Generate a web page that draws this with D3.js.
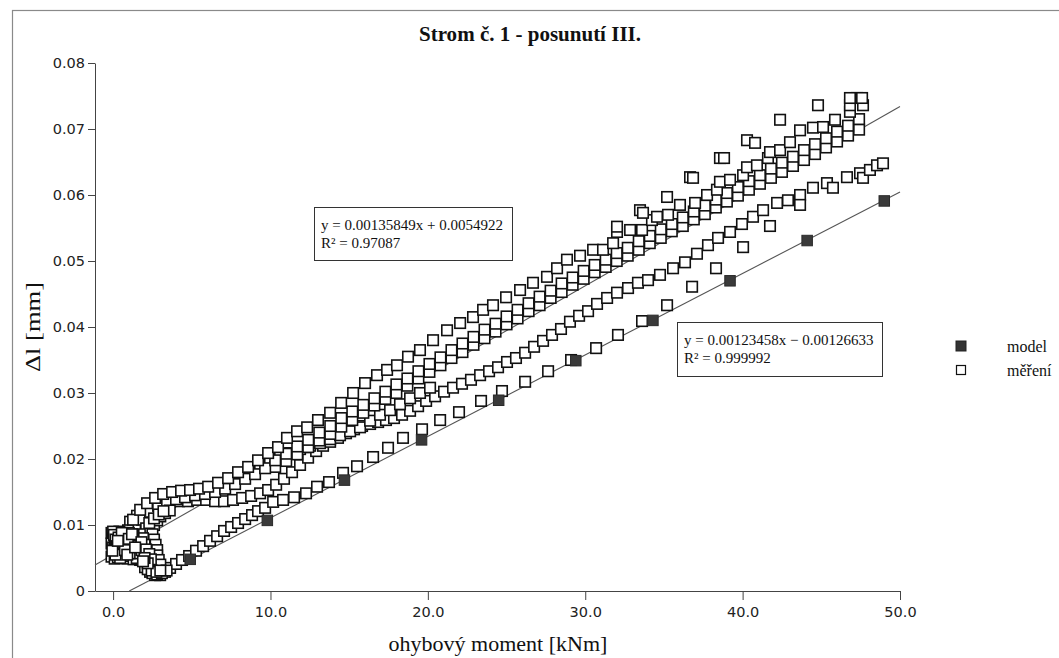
<!DOCTYPE html>
<html><head><meta charset="utf-8">
<script src="https://cdn.jsdelivr.net/npm/d3@7"></script>
<style>body{margin:0;background:#fff;overflow:hidden}</style>
</head><body>
<svg id="c" width="1059" height="658"></svg>
<script>
const titleText = "Strom č. 1 - posunutí III.";
const xLabel = "ohybový moment [kNm]";
const yLabel = "Δl [mm]";
const xTicks = [0, 10, 20, 30, 40, 50];
const xTickLabels = ["0.0", "10.0", "20.0", "30.0", "40.0", "50.0"];
const yTicks = [0, 0.01, 0.02, 0.03, 0.04, 0.05, 0.06, 0.07, 0.08];
const yTickLabels = ["0", "0.01", "0.02", "0.03", "0.04", "0.05", "0.06", "0.07", "0.08"];
const seriesNames = ["model", "měření"];
const fitMeasured = [0.00135849, 0.0054922];
const fitModel = [0.00123458, -0.00126633];
const eqMeasured = ["y = 0.00135849x + 0.0054922", "R² = 0.97087"];
const eqModel = ["y = 0.00123458x − 0.00126633", "R² = 0.999992"];

const modelX = [4.9, 9.8, 14.7, 19.6, 24.5, 29.4, 34.3, 39.2, 44.1, 49.0];
const modelY = [0.0048, 0.0107, 0.0168, 0.0229, 0.0289, 0.0349, 0.0410, 0.0470, 0.0531, 0.0591];

const measCluster = [[-0.1,0.0088],[0.0,0.0080],[-0.1,0.0072],[0.1,0.0065],[0.0,0.0058],[-0.1,0.0052],[0.1,0.0049],[0.3,0.0051],[0.2,0.0060],[0.3,0.0070],[0.2,0.0083],[0.4,0.0090],[0.5,0.0078],[0.6,0.0066],[0.5,0.0056],[0.7,0.0050],[0.9,0.0049],[0.8,0.0058],[0.9,0.0069],[0.8,0.0080],[1.0,0.0088],[1.1,0.0074],[1.2,0.0062],[1.1,0.0053],[1.3,0.0048],[1.5,0.0050],[1.6,0.0057],[1.5,0.0078],[1.7,0.0086],[1.9,0.0080],[2.0,0.0070],[1.8,0.0062],[0.0,0.0066],[0.1,0.0076],[0.0,0.0090],[0.6,0.0087],[1.3,0.0085],[0.4,0.0062],[0.7,0.0073],[0.05,0.0085],[0.15,0.0078],[0.25,0.0068],[0.35,0.0057],[0.45,0.0050],[0.55,0.0061],[0.65,0.0072],[0.75,0.0084],[0.85,0.0075],[0.95,0.0063],[1.05,0.0057],[1.15,0.0068],[1.25,0.0079],[0.15,0.0055],[0.35,0.0081],[0.55,0.0088],[0.75,0.0062],[1.0,0.0079],[1.2,0.0086],[-0.05,0.0061],[0.3,0.0076],[0.9,0.0055],[1.6,0.0068],[1.8,0.0074],[2.1,0.0063],[2.3,0.0056],[2.4,0.0048],[2.2,0.0042],[2.0,0.0050],[1.9,0.0045],[1.4,0.0066]];
const measLoopUp = [[1.6,0.0060],[1.8,0.0068],[2.0,0.0076],[2.2,0.0084],[2.4,0.0092],[2.6,0.0100],[2.8,0.0107],[3.0,0.0113],[3.3,0.0118],[3.6,0.0122],[2.1,0.0095],[2.3,0.0103],[2.6,0.0110],[2.9,0.0116],[3.2,0.0121],[2.5,0.0086],[2.6,0.0078],[2.7,0.0070],[2.8,0.0062],[2.8,0.0054],[2.9,0.0047],[3.0,0.0040],[2.2,0.0033],[2.5,0.0027],[2.8,0.0025],[3.1,0.0027],[3.4,0.0031],[2.45,0.0031],[2.75,0.0029],[3.0,0.0031]];
const measLower = [[1.40,0.0058],[1.72,0.0047],[2.03,0.0036],[2.35,0.0029],[2.67,0.0024],[2.99,0.0024],[3.30,0.0029],[3.62,0.0035],[4.00,0.0041],[4.38,0.0047],[4.83,0.0053],[5.27,0.0061],[5.72,0.0068],[6.16,0.0076],[6.61,0.0083],[7.05,0.0091],[7.50,0.0097],[7.94,0.0103],[8.39,0.0109],[8.83,0.0115],[9.21,0.0121],[9.66,0.0126],[10.17,0.0135],[10.80,0.0138],[11.50,0.0142],[12.26,0.0148],[12.96,0.0158],[13.72,0.0165],[14.61,0.0179],[15.50,0.0189],[16.52,0.0203],[17.47,0.0217],[18.42,0.0232],[19.63,0.0245],[20.78,0.0259],[21.98,0.0271],[23.38,0.0288],[24.71,0.0303],[26.18,0.0317],[27.64,0.0333],[29.10,0.0350],[30.69,0.0368],[32.08,0.0388],[33.61,0.0409],[35.20,0.0433],[36.79,0.0461],[38.31,0.0489],[40.03,0.0521],[41.74,0.0553]];
const measBandTop = [[0.95,0.0092],[1.27,0.0108],[1.72,0.0123],[2.16,0.0133],[2.67,0.0141],[3.18,0.0147],[3.75,0.0150],[4.32,0.0152],[4.89,0.0153],[5.46,0.0155],[6.04,0.0158],[6.67,0.0164],[7.31,0.0171],[7.94,0.0180],[8.58,0.0188],[9.21,0.0198],[9.85,0.0209],[10.48,0.0218],[11.05,0.0232],[11.69,0.0242],[12.33,0.0248],[13.02,0.0259],[13.79,0.0270],[14.49,0.0285],[15.25,0.0300],[16.01,0.0315],[16.77,0.0327],[17.41,0.0335],[18.04,0.0342],[18.74,0.0355],[19.50,0.0365],[20.33,0.0380],[21.22,0.0395],[22.05,0.0406],[22.87,0.0415],[23.51,0.0426],[24.14,0.0433],[24.97,0.0445],[25.86,0.0456],[26.68,0.0467],[27.57,0.0476],[28.21,0.0489],[28.84,0.0502],[29.67,0.0508],[30.50,0.0517],[31.13,0.0517],[31.77,0.0527],[32.02,0.0544],[32.85,0.0547],[33.61,0.0547],[34.24,0.0562],[34.56,0.0567],[35.26,0.0570],[36.02,0.0585],[36.98,0.0588],[37.74,0.0600],[38.37,0.0608],[38.56,0.0620],[39.20,0.0623],[40.03,0.0630],[40.28,0.0642],[40.91,0.0645],[41.61,0.0656],[41.74,0.0665],[42.38,0.0668],[43.01,0.0680],[43.65,0.0698],[44.47,0.0702],[45.11,0.0703],[45.87,0.0714],[46.82,0.0726],[46.82,0.0736],[47.27,0.0747],[47.65,0.0736]];
const measBandMid = [[1.40,0.0095],[1.84,0.0108],[2.35,0.0120],[2.86,0.0129],[3.43,0.0135],[4.00,0.0139],[4.57,0.0142],[5.21,0.0145],[5.84,0.0147],[6.48,0.0150],[7.12,0.0155],[7.75,0.0162],[8.39,0.0170],[9.02,0.0177],[9.66,0.0186],[10.3,0.0198],[11.0,0.0208],[11.7,0.0219],[12.4,0.0229],[13.1,0.0240],[13.8,0.0250],[14.5,0.0262],[15.2,0.0272],[15.9,0.0282],[16.6,0.0292],[17.3,0.0302],[18.0,0.0313],[18.7,0.0322],[19.4,0.0333],[20.1,0.0344],[20.8,0.0354],[21.5,0.0365],[22.2,0.0375],[22.9,0.0385],[23.6,0.0396],[24.3,0.0405],[25.0,0.0416],[25.7,0.0426],[26.4,0.0436],[27.1,0.0446],[27.8,0.0455],[28.5,0.0466],[29.2,0.0475],[29.9,0.0485],[30.6,0.0494],[31.3,0.0502],[32.0,0.0512],[32.7,0.0520],[33.4,0.0530],[34.1,0.0538],[34.8,0.0548],[35.5,0.0556],[36.2,0.0566],[36.9,0.0575],[37.6,0.0584],[38.3,0.0593],[39.0,0.0603],[39.7,0.0612],[40.4,0.0621],[41.1,0.0630],[41.8,0.0640],[42.5,0.0649],[43.2,0.0658],[43.9,0.0668],[44.6,0.0677],[45.3,0.0686],[46.0,0.0696],[46.7,0.0705],[47.4,0.0715]];
const measBandLow = [[10.3,0.0188],[11.0,0.0197],[11.7,0.0207],[12.4,0.0218],[13.1,0.0228],[13.8,0.0238],[14.5,0.0249],[15.2,0.0259],[15.9,0.0270],[16.6,0.0281],[17.3,0.0291],[18.0,0.0300],[18.7,0.0311],[19.4,0.0322],[20.1,0.0332],[20.8,0.0342],[21.5,0.0353],[22.2,0.0362],[22.9,0.0373],[23.6,0.0383],[24.3,0.0393],[25.0,0.0404],[25.7,0.0413],[26.4,0.0424],[27.1,0.0433],[27.8,0.0444],[28.5,0.0453],[29.2,0.0464],[29.9,0.0473],[30.6,0.0483],[31.3,0.0491],[32.0,0.0500],[32.7,0.0508],[33.4,0.0517],[34.1,0.0527],[34.8,0.0535],[35.5,0.0545],[36.2,0.0553],[36.9,0.0563],[37.6,0.0571],[38.3,0.0581],[39.0,0.0590],[39.7,0.0599],[40.4,0.0608],[41.1,0.0617],[41.8,0.0626],[42.5,0.0635],[43.2,0.0644],[43.9,0.0653],[44.6,0.0662],[45.3,0.0672],[46.0,0.0681],[46.7,0.0690],[47.4,0.0699]];
const measMiddle = [[1.08,0.0105],[1.52,0.0114],[2.03,0.0121],[2.54,0.0127],[3.05,0.0132],[3.62,0.0135],[4.19,0.0136],[4.76,0.0136],[5.34,0.0138],[5.91,0.0138],[6.48,0.0136],[7.05,0.0136],[7.62,0.0138],[8.20,0.0141],[8.77,0.0144],[9.34,0.0148],[9.85,0.0153],[10.36,0.0161],[10.86,0.0170],[11.37,0.0180],[11.88,0.0191],[12.39,0.0202],[12.90,0.0212],[13.34,0.0220],[13.79,0.0226],[14.29,0.0232],[14.80,0.0239],[15.31,0.0245],[15.82,0.0250],[16.33,0.0253],[16.84,0.0256],[17.34,0.0259],[17.85,0.0262],[18.36,0.0267],[18.87,0.0273],[19.38,0.0280],[19.89,0.0288],[20.46,0.0295],[21.03,0.0302],[21.60,0.0308],[22.17,0.0314],[22.74,0.0320],[23.32,0.0327],[23.89,0.0333],[24.46,0.0339],[25.03,0.0347],[25.60,0.0353],[26.18,0.0361],[26.75,0.0370],[27.32,0.0379],[27.89,0.0388],[28.46,0.0397],[29.03,0.0408],[29.61,0.0417],[30.18,0.0424],[30.75,0.0435],[31.39,0.0444],[32.02,0.0452],[32.72,0.0459],[33.35,0.0467],[33.99,0.0471],[34.75,0.0479],[35.58,0.0489],[36.34,0.0498],[37.10,0.0511],[37.80,0.0524],[38.44,0.0535],[39.20,0.0544],[39.96,0.0556],[40.66,0.0567],[41.30,0.0577],[42.19,0.0588],[42.88,0.0592],[43.65,0.0600],[43.65,0.0585],[44.47,0.0611],[45.36,0.0618],[45.74,0.0611],[46.63,0.0627],[47.46,0.0633],[47.65,0.0626],[48.09,0.0638],[48.54,0.0645],[48.92,0.0648]];
const measMiddle2 = [[8.70,0.0180],[9.34,0.0189],[9.97,0.0197],[10.61,0.0203],[11.25,0.0209],[11.88,0.0215],[12.52,0.0220],[13.15,0.0224],[13.79,0.0230],[14.42,0.0236],[15.06,0.0242],[15.69,0.0248],[16.33,0.0258],[16.96,0.0267],[17.60,0.0274],[18.23,0.0283],[18.87,0.0292],[19.50,0.0300],[20.14,0.0308]];
const measOutliers = [[32.02,0.0552],[33.48,0.0577],[33.67,0.0573],[35.20,0.0597],[36.66,0.0627],[36.85,0.0626],[38.56,0.0656],[38.82,0.0656],[40.28,0.0683],[40.79,0.0679],[42.38,0.0714],[44.79,0.0736],[46.82,0.0747],[47.59,0.0747]];

const svg = d3.select("#c");
const x = d3.scaleLinear().domain([-1.15, 50]).range([95, 900]);
const y = d3.scaleLinear().domain([0, 0.08]).range([591, 63]);
const serif = "'Liberation Serif','Times New Roman',serif";
const sans = "'DejaVu Sans',Verdana,sans-serif";

// outer frame
svg.append("rect").attr("x", 12.5).attr("y", 10.5).attr("width", 1100).attr("height", 700)
  .attr("fill", "none").attr("stroke", "#8a8a8a").attr("stroke-width", 1.2);

// title
svg.append("text").attr("x", 530).attr("y", 41).attr("text-anchor", "middle")
  .attr("font-family", serif).attr("font-weight", "bold").attr("font-size", 22)
  .attr("textLength", 222).attr("lengthAdjust", "spacingAndGlyphs").attr("fill", "#111").text(titleText);

// axes
const yAxis = d3.axisLeft(y).tickValues(yTicks).tickFormat((d, i) => yTickLabels[i]).tickSize(7).tickSizeOuter(0).tickPadding(3);
const xAxis = d3.axisBottom(x).tickValues(xTicks).tickFormat((d, i) => xTickLabels[i]).tickSize(9).tickSizeOuter(0).tickPadding(7);
const gy = svg.append("g").attr("transform", "translate(95,0)").call(yAxis);
const gx = svg.append("g").attr("transform", "translate(0,591)").call(xAxis);
[gx, gy].forEach(g => {
  g.select(".domain").attr("stroke", "#444");
  g.selectAll(".tick line").attr("stroke", "#444");
  g.selectAll(".tick text").attr("font-family", sans).attr("font-size", 14.5).attr("fill", "#222");
});

// axis labels
svg.append("text").attr("x", 498).attr("y", 651).attr("text-anchor", "middle")
  .attr("font-family", serif).attr("font-size", 22).attr("fill", "#111").text(xLabel);
svg.append("text").attr("transform", "translate(40,327) rotate(-90)").attr("text-anchor", "middle")
  .attr("font-family", serif).attr("font-size", 22).attr("textLength", 90).attr("lengthAdjust", "spacingAndGlyphs")
  .attr("fill", "#111").text(yLabel);

// trend lines
const plot = svg.append("g");
const x0 = x.domain()[0], x1 = x.domain()[1];
const fitLines = [
  [[x0, fitMeasured[0] * x0 + fitMeasured[1]], [x1, fitMeasured[0] * x1 + fitMeasured[1]]],
  [[-fitModel[1] / fitModel[0], 0], [x1, fitModel[0] * x1 + fitModel[1]]]
];
plot.selectAll("line.fit").data(fitLines).join("line").attr("class", "fit")
  .attr("x1", d => x(d[0][0])).attr("y1", d => y(d[0][1]))
  .attr("x2", d => x(d[1][0])).attr("y2", d => y(d[1][1]))
  .attr("stroke", "#555").attr("stroke-width", 1.1);

// measured points
const S = 10.5;
const meas = [].concat(measLower, measMiddle, measMiddle2, measBandLow, measBandMid, measBandTop, measOutliers, measLoopUp, measCluster);
plot.selectAll("rect.m").data(meas).join("rect").attr("class", "m")
  .attr("x", d => x(d[0]) - S / 2).attr("y", d => y(d[1]) - S / 2)
  .attr("width", S).attr("height", S)
  .attr("fill", "#fff").attr("stroke", "#111").attr("stroke-width", 1.6);

// model points
plot.selectAll("rect.mod").data(modelX.map((v, i) => [v, modelY[i]])).join("rect").attr("class", "mod")
  .attr("x", d => x(d[0]) - S / 2).attr("y", d => y(d[1]) - S / 2)
  .attr("width", S).attr("height", S)
  .attr("fill", "#3a3a3a").attr("stroke", "#2a2a2a").attr("stroke-width", 1);

// equation boxes
function eqBox(bx, by, bw, bh, lines) {
  const g = svg.append("g");
  g.append("rect").attr("x", bx + 0.5).attr("y", by + 0.5).attr("width", bw).attr("height", bh)
    .attr("fill", "#fff").attr("stroke", "#333").attr("stroke-width", 1);
  lines.forEach((t, i) => g.append("text").attr("x", bx + 7).attr("y", by + 23 + i * 18)
    .attr("font-family", serif).attr("font-size", 15).attr("fill", "#111").text(t));
}
eqBox(314, 207, 198, 53, eqMeasured);
eqBox(677, 322, 205, 54, eqModel);

// legend
const lg = svg.append("g");
lg.append("rect").attr("x", 956).attr("y", 341).attr("width", 10).attr("height", 10).attr("fill", "#333").attr("stroke", "#222");
lg.append("rect").attr("x", 956.5).attr("y", 365.5).attr("width", 9).attr("height", 9).attr("fill", "#fff").attr("stroke", "#111").attr("stroke-width", 1.2);
seriesNames.forEach((n, i) => lg.append("text").attr("x", 1007).attr("y", 352 + i * 24)
  .attr("font-family", serif).attr("font-size", 16).attr("fill", "#111").text(n));
</script>
</body></html>
